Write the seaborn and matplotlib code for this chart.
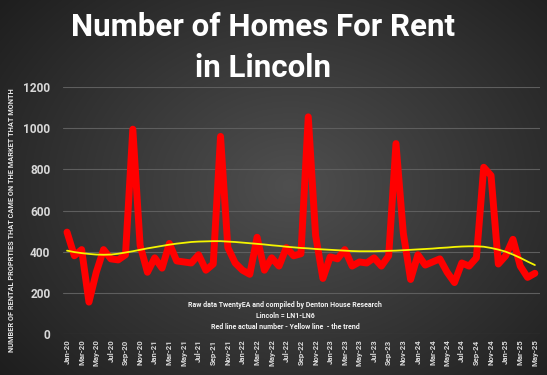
import numpy as np
import pandas as pd
import matplotlib
matplotlib.use("Agg")
import matplotlib.pyplot as plt
import seaborn as sns

# ---- data ----
years = ["20", "21", "22", "23", "24", "25"]
month_names = ["Jan", "Feb", "Mar", "Apr", "May", "Jun", "Jul", "Aug", "Sep", "Oct", "Nov", "Dec"]
months = [f"{m}-{y}" for y in years for m in month_names][:65]

homes = [495, 380, 410, 155, 300, 410, 365, 360, 385, 995,
         430, 300, 370, 320, 440, 355, 350, 345, 385, 310,
         340, 960, 420, 345, 310, 290, 470, 310, 370, 330,
         420, 380, 390, 1055, 480, 270, 375, 365, 410, 330,
         350, 345, 370, 330, 380, 925, 490, 265, 385, 335,
         350, 365, 300, 250, 345, 330, 370, 810, 770, 340,
         380, 460, 330, 275, 295]

trend = [405, 398, 393, 389, 386, 385, 386, 390, 396, 402,
         409, 416, 422, 428, 434, 439, 443, 447, 449, 450,
         451, 451, 449, 447, 444, 441, 438, 435, 431, 428,
         424, 421, 418, 416, 413, 411, 409, 407, 405, 403,
         402, 402, 402, 403, 404, 405, 407, 409, 411, 413,
         415, 418, 420, 423, 425, 426, 426, 424, 418, 410,
         400, 386, 370, 352, 335]

tick_labels = months[::2]
y_ticks = [0, 200, 400, 600, 800, 1000, 1200]

title_lines = ["Number of Homes For Rent", "in Lincoln"]
ylabel = "NUMBER OF RENTAL PROPRTIES THAT CAME ON THE MARKET THAT MONTH"
note_lines = ["Raw data TwentyEA and compiled by Denton House Research",
              "Lincoln = LN1-LN6",
              "Red line actual number - Yellow line  - the trend"]

idx = np.arange(len(homes))
df = pd.DataFrame({"i": idx, "month": months, "homes": homes, "trend": trend})

# ---- figure ----
sns.set_theme(style="dark")
plt.rcParams['font.family'] = ['Roboto', 'DejaVu Sans']

W, H = 547, 375
fig = plt.figure(figsize=(W / 100, H / 100), dpi=100)

# radial gradient background
bg = fig.add_axes([0, 0, 1, 1], zorder=-10)
yy, xx = np.mgrid[0:H, 0:W]
r = np.sqrt(((xx - 290) / 330.0) ** 2 + ((yy - 185) / 260.0) ** 2)
val = np.clip(0.31 - 0.17 * r, 0.1, 0.32)
img = np.dstack([val, val, val])
bg.imshow(img, aspect="auto", extent=[0, 1, 0, 1], origin="upper")
bg.set_axis_off()

ax = fig.add_axes([63 / W, 1 - 334 / H, (540 - 63) / W, (334 - 87) / H])
ax.set_facecolor("none")

sns.lineplot(data=df, x="i", y="homes", ax=ax, color="#ff0000", linewidth=5.0,
             solid_capstyle="round", solid_joinstyle="round", zorder=3)
sns.lineplot(data=df, x="i", y="trend", ax=ax, color="#f5f500", linewidth=1.3, zorder=4)

ax.set_xlim(-0.55, 64.7)
ax.set_ylim(0, 1200)
ax.set_yticks(y_ticks)
ax.set_yticklabels([str(v) for v in y_ticks], color="#d8d8d8", fontsize=8.6, fontweight="bold")
ax.set_xticks(idx[::2])
ax.set_xticklabels(tick_labels, rotation=90, color="#d8d8d8", fontsize=5.6, fontweight="bold")
ax.tick_params(axis="y", length=0, pad=9)
ax.tick_params(axis="x", length=0, pad=4)
ax.set_xlabel("")
ax.set_ylabel("")
for s in ax.spines.values():
    s.set_visible(False)
ax.grid(axis="y", color="#5e5e5e", linewidth=0.8)
ax.grid(axis="x", visible=False)

fig.text(12.5 / W, 1 - 220 / H, ylabel, rotation=90, ha="center", va="center",
         color="#e8e8e8", fontsize=5.3, fontweight="bold")

fig.text(263 / W, 1 - 27 / H, title_lines[0], ha="center", va="center",
         color="white", fontsize=22.5, fontweight="bold")
fig.text(263 / W, 1 - 68 / H, title_lines[1], ha="center", va="center",
         color="white", fontsize=22.5, fontweight="bold")

for k, line in enumerate(note_lines):
    fig.text(285 / W, 1 - (305 + 11 * k) / H, line, ha="center", va="center",
             color="#f2f2f2", fontsize=5.0, fontweight="bold")

fig.savefig("out.png", dpi=100)
